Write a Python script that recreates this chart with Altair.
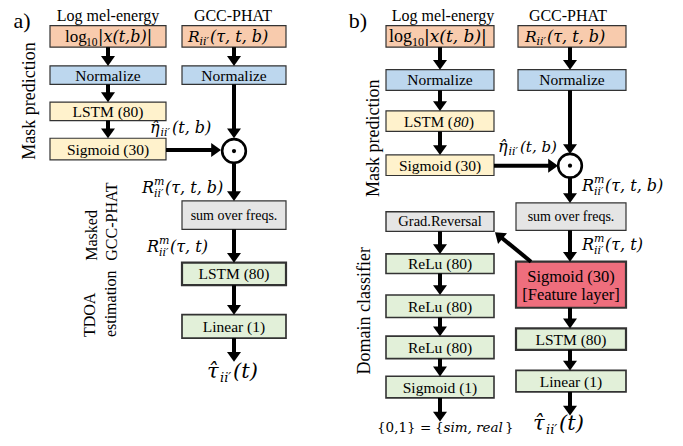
import math
import altair as alt
import pandas as pd

SERIF = "Liberation Serif"
MATH = "DejaVu Serif"

# ---------------- boxes (panel a, then panel b) ----------------
box_x0 = [50, 182, 50, 182, 50, 50, 182, 182, 182,
          386, 518, 386, 518, 386, 386, 516, 386, 386, 386, 386, 386, 516, 516, 516]
box_x1 = [166, 286, 166, 286, 166, 166, 286, 286, 286,
          494, 626, 494, 626, 494, 494, 626, 494, 494, 494, 494, 494, 626, 626, 626]
box_y0 = [20, 20, 61, 61, 98, 135, 199, 262, 315,
          20, 20, 65, 65, 107, 152, 201, 210, 253, 295, 337, 378, 261, 329, 372]
box_y1 = [42, 42, 80, 80, 117, 157, 228, 285, 339,
          42, 42, 86, 86, 128, 173, 229, 230, 273, 318, 360, 400, 308, 351, 394]
box_kind = ["in", "in", "norm", "norm", "mask", "mask", "sum", "est", "est",
            "in", "in", "norm", "norm", "mask", "mask", "sum", "sum", "dom", "dom", "dom", "dom",
            "feat", "est", "est"]
box_label = ["", "", "Normalize", "Normalize", "LSTM (80)", "Sigmoid (30)", "sum over freqs.",
             "LSTM (80)", "Linear (1)",
             "", "", "Normalize", "Normalize", "", "Sigmoid (30)", "sum over freqs.", "Grad.Reversal",
             "ReLu (80)", "ReLu (80)", "ReLu (80)", "Sigmoid (1)", "", "LSTM (80)", "Linear (1)"]
box_font_size = [16, 16, 15.5, 15.5, 15.5, 15.5, 14, 15.5, 15.5,
                 16, 16, 15.5, 15.5, 15.5, 15.5, 14, 14.5, 15.5, 15.5, 15.5, 15.5, 16, 15.5, 15.5]
box_border = [1.2, 1.2, 1.2, 1.2, 1.2, 1.2, 1.2, 2.2, 1.7,
              1.2, 1.2, 1.2, 1.2, 1.2, 1.2, 1.2, 1.4, 1.6, 1.6, 1.6, 1.6, 2.2, 2.2, 1.7]
PALETTE = {"in": "#F8CBAD", "norm": "#BDD7EE", "mask": "#FFF2CC", "sum": "#E5E5E5",
           "est": "#E2F0D9", "dom": "#E2F0D9", "feat": "#EF6E7D"}

# ---------------- arrows: start -> tip ----------------
arrow_x0 = [108, 108, 108, 234, 234, 234, 234, 234, 234, 166,
            440, 440, 440, 440, 440, 440, 440, 440,
            570, 570, 570, 570, 570, 570, 570, 494, 531]
arrow_y0 = [42, 80, 117, 42, 80, 161, 228, 285, 339, 147,
            42, 86, 128, 230, 273, 318, 360, 400,
            42, 86, 175, 229, 308, 351, 394, 163, 261]
arrow_x1 = [108, 108, 108, 234, 234, 234, 234, 234, 234, 221,
            440, 440, 440, 440, 440, 440, 440, 440,
            570, 570, 570, 570, 570, 570, 570, 558, 495]
arrow_y1 = [61, 98, 135, 61, 135, 199, 262, 315, 363, 147,
            65, 107, 152, 253, 295, 337, 378, 424,
            65, 151, 201, 261, 329, 372, 418, 163, 231]

# ---------------- element-wise product circles ----------------
circ_x = [234, 570]
circ_y = [148, 163]

# ---------------- free text: (text, x, y, size, font, style, align, baseline, angle) ----------------
texts = [
    ("a)", 22, 15.5, 22, SERIF, "normal", "center", "middle", 0),
    ("b)", 358, 15.5, 22, SERIF, "normal", "center", "middle", 0),
    ("Log mel-energy", 108, 10, 16, SERIF, "normal", "center", "middle", 0),
    ("GCC-PHAT", 233, 10, 16, SERIF, "normal", "center", "middle", 0),
    ("Log mel-energy", 443, 10, 16, SERIF, "normal", "center", "middle", 0),
    ("GCC-PHAT", 568, 10, 16, SERIF, "normal", "center", "middle", 0),
    ("Mask prediction", 30, 97, 18, SERIF, "normal", "center", "middle", 270),
    ("Mask prediction", 374, 135, 18, SERIF, "normal", "center", "middle", 270),
    ("Domain classifier", 365, 311, 18, SERIF, "normal", "center", "middle", 270),
    ("Masked", 92, 260, 16, SERIF, "normal", "left", "middle", 270),
    ("GCC-PHAT", 112, 260, 16, SERIF, "normal", "left", "middle", 270),
    ("TDOA", 90, 338, 16, SERIF, "normal", "left", "middle", 270),
    ("estimation", 111, 338, 16, SERIF, "normal", "left", "middle", 270),
    ("Sigmoid (30)", 571, 277, 16.5, SERIF, "normal", "center", "middle", 0),
    ("[Feature layer]", 571, 295, 16.5, SERIF, "normal", "center", "middle", 0),
    # panel b LSTM with italic units
    ("LSTM (", 404, 123, 15, SERIF, "normal", "left", "alphabetic", 0),
    ("80", 453.5, 123, 15, SERIF, "italic", "left", "alphabetic", 0),
    (")", 469, 123, 15, SERIF, "normal", "left", "alphabetic", 0),
    # log10|x(t,b)|
    ("log", 65, 36.5, 17, SERIF, "normal", "left", "alphabetic", 0),
    ("10", 86, 40.5, 11.5, SERIF, "normal", "left", "alphabetic", 0),
    ("|x(t,b)|", 98, 36.5, 16, MATH, "italic", "left", "alphabetic", 0),
    ("log", 389, 36.5, 18, SERIF, "normal", "left", "alphabetic", 0),
    ("10", 412, 40.5, 12, SERIF, "normal", "left", "alphabetic", 0),
    ("|x(t, b)|", 424, 36.5, 17, MATH, "italic", "left", "alphabetic", 0),
    # R_ii'(tau,t,b)
    ("R", 188, 36.5, 15.5, MATH, "italic", "left", "alphabetic", 0),
    ("ii\u2032", 199.5, 40, 11, MATH, "italic", "left", "alphabetic", 0),
    ("(\u03c4, t, b)", 210, 36.5, 16, MATH, "italic", "left", "alphabetic", 0),
    ("R", 525, 36.5, 15.5, MATH, "italic", "left", "alphabetic", 0),
    ("ii\u2032", 536.5, 40, 11, MATH, "italic", "left", "alphabetic", 0),
    ("(\u03c4, t, b)", 547, 36.5, 16, MATH, "italic", "left", "alphabetic", 0),
    # eta hat
    ("\u03b7\u0302", 150, 130, 16, MATH, "italic", "left", "alphabetic", 0),
    ("ii\u2032", 160.5, 133, 11, MATH, "italic", "left", "alphabetic", 0),
    ("(t, b)", 172, 130, 16, MATH, "italic", "left", "alphabetic", 0),
    ("\u03b7\u0302", 498, 149, 16, MATH, "italic", "left", "alphabetic", 0),
    ("ii\u2032", 508.5, 152, 11, MATH, "italic", "left", "alphabetic", 0),
    ("(t, b)", 520, 149, 15, MATH, "italic", "left", "alphabetic", 0),
    # masked GCC-PHAT labels
    ("R", 142, 191, 16, MATH, "italic", "left", "alphabetic", 0),
    ("m", 154, 183, 11, MATH, "italic", "left", "alphabetic", 0),
    ("ii\u2032", 154, 195, 11, MATH, "italic", "left", "alphabetic", 0),
    ("(\u03c4, t, b)", 165, 191, 16, MATH, "italic", "left", "alphabetic", 0),
    ("R", 147, 251, 16, MATH, "italic", "left", "alphabetic", 0),
    ("m", 159, 243, 11, MATH, "italic", "left", "alphabetic", 0),
    ("ii\u2032", 159, 255, 11, MATH, "italic", "left", "alphabetic", 0),
    ("(\u03c4, t)", 170, 251, 16, MATH, "italic", "left", "alphabetic", 0),
    ("R", 582, 189, 16, MATH, "italic", "left", "alphabetic", 0),
    ("m", 594, 181, 11, MATH, "italic", "left", "alphabetic", 0),
    ("ii\u2032", 594, 193, 11, MATH, "italic", "left", "alphabetic", 0),
    ("(\u03c4, t, b)", 605, 189, 16, MATH, "italic", "left", "alphabetic", 0),
    ("R", 582, 249, 16, MATH, "italic", "left", "alphabetic", 0),
    ("m", 594, 241, 11, MATH, "italic", "left", "alphabetic", 0),
    ("ii\u2032", 594, 253, 11, MATH, "italic", "left", "alphabetic", 0),
    ("(\u03c4, t)", 605, 249, 16, MATH, "italic", "left", "alphabetic", 0),
    # outputs
    ("\u03c4\u0302", 207, 380, 21, MATH, "italic", "left", "alphabetic", 0),
    ("ii\u2032", 220, 384, 13, MATH, "italic", "left", "alphabetic", 0),
    ("(t)", 233, 380, 21, MATH, "italic", "left", "alphabetic", 0),
    ("\u03c4\u0302", 533, 433, 21, MATH, "italic", "left", "alphabetic", 0),
    ("ii\u2032", 546, 437, 13, MATH, "italic", "left", "alphabetic", 0),
    ("(t)", 559, 433, 21, MATH, "italic", "left", "alphabetic", 0),
    ("{0,1} =", 377, 435, 13.5, MATH, "normal", "left", "alphabetic", 0),
    ("{", 435, 435, 13.5, MATH, "normal", "left", "alphabetic", 0),
    ("sim, real", 443.5, 435, 13.5, MATH, "italic", "left", "alphabetic", 0),
    ("}", 505, 435, 13.5, MATH, "normal", "left", "alphabetic", 0),
]

# ---------------- build tables ----------------
boxes = pd.DataFrame({
    "x": box_x0, "x2": box_x1, "y": box_y0, "y2": box_y1,
    "fill": [PALETTE[k] for k in box_kind], "sw": box_border,
})
labels = pd.DataFrame({
    "x": [(a + b) / 2 for a, b in zip(box_x0, box_x1)],
    "y": [(a + b) / 2 + 0.5 for a, b in zip(box_y0, box_y1)],
    "text": box_label, "size": box_font_size,
})
labels = labels[labels["text"] != ""]

shafts, heads = [], []
for x0, y0, x1, y1 in zip(arrow_x0, arrow_y0, arrow_x1, arrow_y1):
    dx, dy = x1 - x0, y1 - y0
    L = math.hypot(dx, dy)
    ux, uy = dx / L, dy / L
    shafts.append({"x": x0, "y": y0, "x2": x1 - 7 * ux, "y2": y1 - 7 * uy})
    heads.append({"x": x1 - 4.9 * ux, "y": y1 - 4.9 * uy,
                  "ang": math.degrees(math.atan2(-ux, uy)) % 360})
shafts = pd.DataFrame(shafts)
heads = pd.DataFrame(heads)
circles = pd.DataFrame({"x": circ_x, "y": circ_y})

tdf = pd.DataFrame(texts, columns=["text", "x", "y", "size", "font", "style", "align", "baseline", "angle"])

XS = alt.Scale(domain=[8, 675], nice=False, zero=False)
YS = alt.Scale(domain=[2, 441], nice=False, zero=False, reverse=True)


def X(f="x"):
    return alt.X(f"{f}:Q", scale=XS, axis=None)


def Y(f="y"):
    return alt.Y(f"{f}:Q", scale=YS, axis=None)


layers = []
layers.append(alt.Chart(boxes).mark_rect(stroke="#333333").encode(
    x=X(), x2="x2:Q", y=Y(), y2="y2:Q",
    fill=alt.Fill("fill:N", scale=None),
    strokeWidth=alt.StrokeWidth("sw:Q", scale=None)))
layers.append(alt.Chart(shafts).mark_rule(color="black", strokeWidth=4).encode(
    x=X(), x2="x2:Q", y=Y(), y2="y2:Q"))
layers.append(alt.Chart(heads).mark_point(
    shape="M-1,-0.7L1,-0.7L0,0.7Z", filled=True, color="black", size=196, opacity=1).encode(
    x=X(), y=Y(), angle=alt.Angle("ang:Q", scale=None)))
layers.append(alt.Chart(circles).mark_point(
    shape="circle", filled=True, fill="white", stroke="black", strokeWidth=2.6,
    size=560, opacity=1, fillOpacity=1).encode(x=X(), y=Y()))
layers.append(alt.Chart(circles).mark_point(
    shape="circle", filled=True, color="black", size=18, opacity=1).encode(x=X(), y=Y()))
layers.append(alt.Chart(labels).mark_text(font=SERIF, color="black", baseline="middle", align="center").encode(
    x=X(), y=Y(), text="text:N", size=alt.Size("size:Q", scale=None)))

for (font, style, align, base), g in tdf.groupby(["font", "style", "align", "baseline"]):
    layers.append(alt.Chart(g.reset_index(drop=True)).mark_text(
        font=font, fontStyle=style, align=align, baseline=base, color="black").encode(
        x=X(), y=Y(), text="text:N",
        size=alt.Size("size:Q", scale=None),
        angle=alt.Angle("angle:Q", scale=None)))

chart = alt.layer(*layers).properties(
    width=667, height=430, autosize=alt.AutoSizeParams(type="none"), padding=0
).configure_view(stroke=None)

chart.save("out.html", embed_options={"renderer": "svg", "actions": False})
